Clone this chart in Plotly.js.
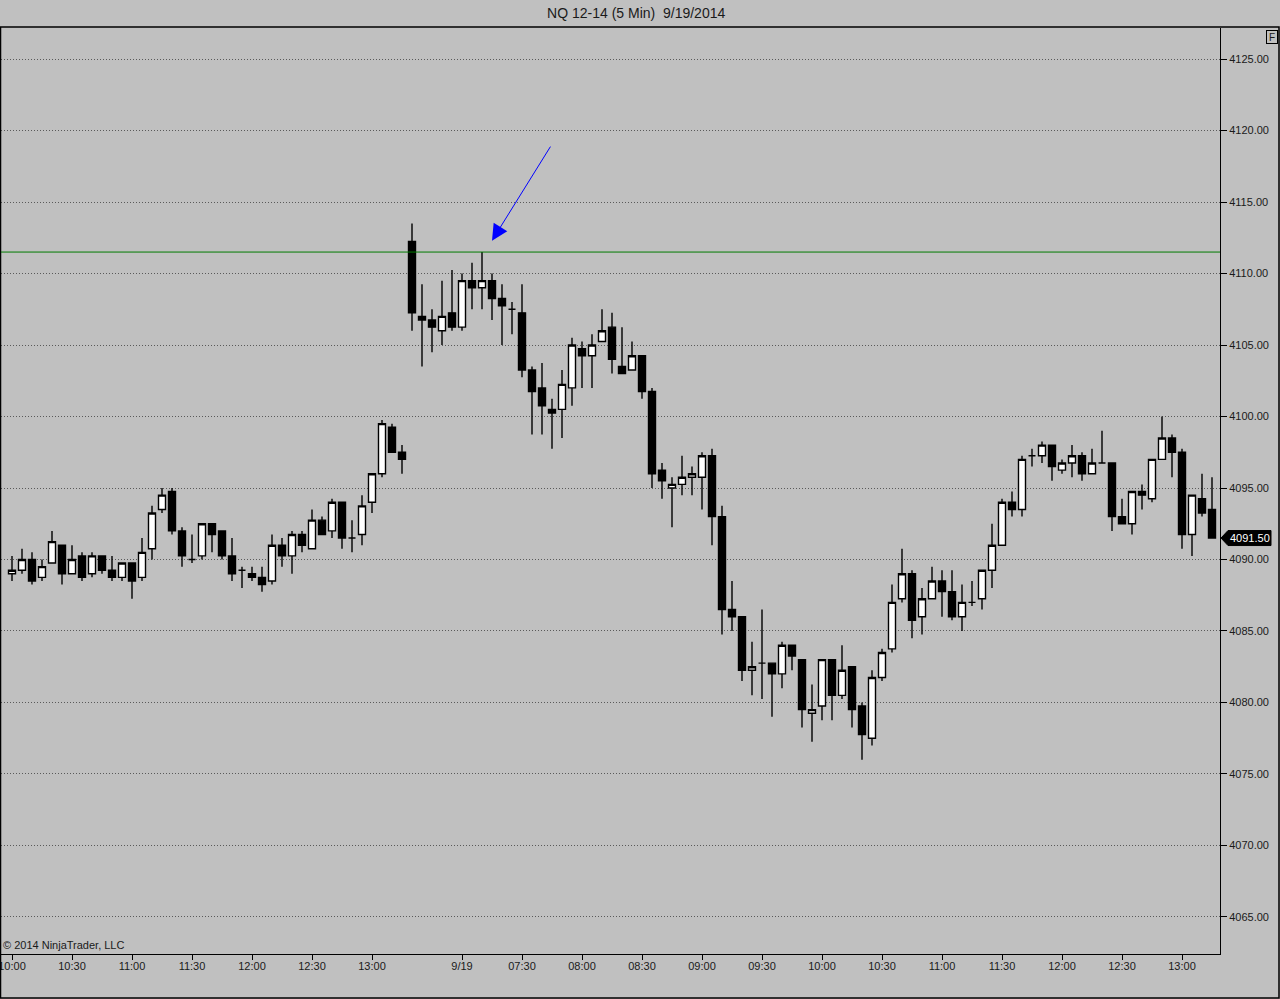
<!DOCTYPE html>
<html>
<head>
<meta charset="utf-8">
<script src="https://cdn.plot.ly/plotly-3.0.1.min.js"></script>
<style>
  html, body { margin: 0; padding: 0; background: #c0c0c0; }
  #chart { width: 1280px; height: 999px; }
</style>
</head>
<body>
<div id="chart"></div>
<script>
// NQ 12-14, 5 min bars, 9/18 10:00 .. 9/19 13:15
const barOpen = [
  4089.0, 4089.25, 4090.0, 4088.75, 4089.75, 4091.0, 4089.0, 4090.25, 4089.0, 4090.25,
  4089.25, 4088.75, 4089.75, 4088.75, 4090.75, 4093.5, 4094.75, 4092.0, 4090.0, 4090.25,
  4092.5, 4092.0, 4090.25, 4089.25, 4089.0, 4088.75, 4088.5, 4091.0, 4090.25, 4091.75,
  4090.75, 4092.75, 4092.0, 4094.0, 4091.5, 4091.75, 4094.0, 4096.0, 4099.25, 4097.5,
  4112.25, 4107.0, 4106.75, 4106.0, 4107.25, 4106.25, 4109.5, 4109.0, 4109.5, 4108.25,
  4107.5, 4107.25, 4103.25, 4102.0, 4100.5, 4100.5, 4102.0, 4104.75, 4104.25, 4105.25,
  4106.25, 4103.5, 4103.25, 4104.25, 4101.75, 4096.25, 4095.0, 4095.25, 4095.75, 4095.75,
  4097.25, 4093.0, 4086.5, 4086.0, 4082.25, 4082.75, 4082.75, 4082.0, 4084.0, 4083.0,
  4079.25, 4079.75, 4083.0, 4080.5, 4082.5, 4079.75, 4077.5, 4081.75, 4083.75, 4087.25,
  4089.0, 4086.0, 4087.25, 4088.5, 4087.75, 4086.0, 4087.0, 4087.25, 4089.25, 4091.0,
  4094.0, 4093.5, 4097.25, 4097.25, 4098.0, 4096.25, 4096.75, 4097.25, 4096.0, 4096.75,
  4096.75, 4093.0, 4092.5, 4094.75, 4094.25, 4097.0, 4098.5, 4097.5, 4091.75, 4094.25,
  4093.5
];
const barHigh = [
  4090.25, 4090.75, 4090.5, 4090.0, 4092.0, 4091.0, 4091.0, 4090.5, 4090.5, 4090.25,
  4090.25, 4089.75, 4089.75, 4091.5, 4093.75, 4095.0, 4095.0, 4092.25, 4091.75, 4092.5,
  4092.5, 4092.0, 4091.5, 4089.5, 4089.5, 4089.5, 4091.75, 4091.5, 4092.0, 4092.0,
  4093.5, 4093.0, 4094.25, 4094.0, 4092.75, 4094.5, 4096.0, 4099.75, 4099.5, 4098.0,
  4113.5, 4109.25, 4107.5, 4109.5, 4110.25, 4110.0, 4110.75, 4111.5, 4110.0, 4109.25,
  4108.0, 4109.25, 4103.5, 4103.75, 4101.25, 4103.25, 4105.5, 4105.25, 4105.75, 4107.5,
  4107.25, 4106.25, 4105.25, 4104.25, 4102.0, 4096.75, 4095.75, 4097.25, 4096.5, 4097.5,
  4097.75, 4093.75, 4088.5, 4086.0, 4084.25, 4086.5, 4082.75, 4084.25, 4084.0, 4083.0,
  4081.25, 4083.0, 4083.0, 4084.0, 4082.5, 4080.0, 4082.25, 4083.75, 4088.25, 4090.75,
  4089.25, 4088.0, 4089.5, 4089.25, 4089.25, 4088.25, 4088.5, 4089.25, 4092.5, 4094.25,
  4094.75, 4097.25, 4097.75, 4098.25, 4098.0, 4097.0, 4098.0, 4097.5, 4097.75, 4099.0,
  4096.75, 4094.25, 4094.75, 4095.25, 4097.0, 4100.0, 4098.75, 4097.75, 4094.5, 4096.0,
  4095.75
];
const barLow = [
  4088.5, 4089.0, 4088.25, 4088.5, 4089.75, 4088.25, 4089.0, 4088.5, 4088.75, 4089.0,
  4088.5, 4088.5, 4087.25, 4088.5, 4090.0, 4093.25, 4091.75, 4089.5, 4089.75, 4090.0,
  4090.5, 4090.0, 4088.5, 4088.0, 4088.5, 4087.75, 4088.25, 4089.5, 4089.0, 4090.5,
  4090.75, 4091.75, 4091.5, 4090.75, 4090.5, 4091.0, 4093.25, 4095.75, 4097.5, 4096.0,
  4106.0, 4103.5, 4104.5, 4105.0, 4106.0, 4106.0, 4107.5, 4107.5, 4106.75, 4105.0,
  4105.75, 4102.75, 4098.75, 4098.75, 4097.75, 4098.5, 4100.75, 4102.0, 4102.0, 4105.25,
  4103.0, 4103.0, 4103.25, 4101.25, 4095.0, 4094.25, 4092.25, 4094.5, 4094.5, 4093.5,
  4091.0, 4084.75, 4085.0, 4081.5, 4080.5, 4080.25, 4079.0, 4081.0, 4082.25, 4078.25,
  4077.25, 4078.75, 4078.75, 4080.25, 4078.25, 4076.0, 4077.0, 4081.5, 4083.5, 4087.0,
  4084.5, 4084.75, 4087.25, 4086.0, 4085.75, 4085.0, 4086.75, 4086.5, 4088.0, 4091.0,
  4093.0, 4093.0, 4096.5, 4096.75, 4095.5, 4096.0, 4095.75, 4095.5, 4096.0, 4096.75,
  4092.0, 4092.5, 4091.75, 4093.5, 4094.0, 4097.0, 4095.75, 4090.75, 4090.25, 4093.0,
  4091.5
];
const barClose = [
  4089.25, 4090.0, 4088.5, 4089.5, 4091.25, 4089.0, 4090.0, 4088.75, 4090.25, 4089.25,
  4088.75, 4089.75, 4088.5, 4090.5, 4093.25, 4094.5, 4092.0, 4090.25, 4090.0, 4092.5,
  4091.75, 4090.25, 4089.0, 4089.25, 4088.75, 4088.25, 4091.0, 4090.25, 4091.75, 4091.0,
  4092.75, 4091.75, 4094.0, 4091.5, 4091.5, 4093.75, 4096.0, 4099.5, 4097.5, 4097.0,
  4107.25, 4106.75, 4106.25, 4107.0, 4106.25, 4109.5, 4109.0, 4109.5, 4108.25, 4107.75,
  4107.5, 4103.25, 4101.75, 4100.75, 4100.25, 4102.25, 4105.0, 4104.25, 4105.0, 4106.0,
  4104.0, 4103.0, 4104.25, 4101.75, 4096.0, 4095.5, 4095.25, 4095.75, 4096.0, 4097.25,
  4093.0, 4086.5, 4086.0, 4082.25, 4082.5, 4082.75, 4082.0, 4084.0, 4083.25, 4079.5,
  4079.5, 4083.0, 4080.5, 4082.25, 4079.5, 4077.75, 4081.75, 4083.5, 4087.0, 4089.0,
  4085.75, 4087.25, 4088.5, 4087.75, 4086.0, 4087.0, 4087.0, 4089.25, 4091.0, 4094.0,
  4093.5, 4097.0, 4097.25, 4098.0, 4096.5, 4096.75, 4097.25, 4096.0, 4096.75, 4096.75,
  4093.0, 4092.5, 4094.75, 4094.5, 4097.0, 4098.5, 4097.5, 4091.75, 4094.5, 4093.25,
  4091.5
];

// bar index of each time label on the x axis
const tickIdx = [0, 6, 12, 18, 24, 30, 36, 45, 51, 57, 63, 69, 75, 81, 87, 93, 99, 105, 111, 117];
const tickText = ["10:00", "10:30", "11:00", "11:30", "12:00", "12:30", "13:00", "9/19",
  "07:30", "08:00", "08:30", "09:00", "09:30", "10:00", "10:30", "11:00", "11:30",
  "12:00", "12:30", "13:00"];

const resistance = 4111.5;
const lastClose = barClose[barClose.length - 1];

const barIdx = barOpen.map((_, i) => i);

const FONT = "Arial, 'Liberation Sans', sans-serif";

const candles = {
  type: "candlestick",
  x: barIdx,
  open: barOpen,
  high: barHigh,
  low: barLow,
  close: barClose,
  whiskerwidth: 0,
  increasing: { line: { color: "#000000", width: 1.4 }, fillcolor: "#ffffff" },
  decreasing: { line: { color: "#000000", width: 1.4 }, fillcolor: "#000000" },
  hoverinfo: "skip",
  showlegend: false
};

const layout = {
  width: 1280,
  height: 999,
  paper_bgcolor: "#c0c0c0",
  plot_bgcolor: "#c0c0c0",
  margin: { l: 1, r: 60, t: 28, b: 45 },
  font: { family: FONT, size: 11, color: "#1a1a1a" },
  showlegend: false,
  boxgap: 0.3,
  boxgroupgap: 0,
  title: {
    text: "NQ 12-14 (5 Min)\u00a0 9/19/2014",
    x: 0.497,
    xref: "container",
    xanchor: "center",
    y: 0.987,
    yref: "container",
    yanchor: "middle",
    font: { family: FONT, size: 14, color: "#1a1a1a" }
  },
  xaxis: {
    range: [-1.1, 120.8],
    rangeslider: { visible: false },
    tickmode: "array",
    tickvals: tickIdx,
    ticktext: tickText,
    ticks: "outside",
    ticklen: 5,
    tickcolor: "#000000",
    ticklabeloverflow: "allow",
    ticklabelstandoff: -3,
    showgrid: false,
    zeroline: false,
    showline: true,
    linecolor: "#000000",
    linewidth: 1,
    tickfont: { family: FONT, size: 11, color: "#1a1a1a" },
    fixedrange: true
  },
  yaxis: {
    side: "right",
    range: [4062.41, 4127.17],
    tickmode: "linear",
    tick0: 4065,
    dtick: 5,
    tickformat: ".2f",
    ticks: "outside",
    ticklen: 6,
    tickcolor: "#000000",
    showgrid: true,
    gridcolor: "#5a5a5a",
    gridwidth: 1,
    griddash: "1px,2px",
    zeroline: false,
    showline: true,
    linecolor: "#000000",
    linewidth: 1,
    tickfont: { family: FONT, size: 11, color: "#1a1a1a" },
    fixedrange: true
  },
  shapes: [
    // outer frame of the chart panel
    {
      type: "rect", xref: "paper", yref: "paper",
      x0: -0.0004, x1: 1.0484, y0: -0.0475, y1: 1.0011,
      line: { color: "#000000", width: 1.5 }
    },
    // horizontal level line
    {
      type: "line", xref: "paper", yref: "y",
      x0: 0, x1: 1, y0: resistance, y1: resistance,
      line: { color: "#007a00", width: 1 }
    },
    // last price flag on the price axis
    {
      type: "path", xref: "paper", yref: "y",
      xsizemode: "pixel", ysizemode: "pixel",
      xanchor: 1, yanchor: lastClose,
      path: "M1,0 L8,7.5 L51,7.5 L51,-7.5 L8,-7.5 Z",
      fillcolor: "#000000",
      line: { color: "#000000", width: 1 }
    }
  ],
  annotations: [
    {
      text: "\u00a9 2014 NinjaTrader, LLC",
      xref: "paper", yref: "paper",
      x: 0, y: 0.001, xanchor: "left", yanchor: "bottom",
      showarrow: false,
      font: { family: FONT, size: 11, color: "#1a1a1a" }
    },
    {
      text: lastClose.toFixed(2),
      xref: "paper", yref: "y",
      x: 1, y: lastClose, xanchor: "left", yanchor: "middle",
      xshift: 8,
      showarrow: false,
      font: { family: FONT, size: 11, color: "#ffffff" }
    },
    {
      text: "F",
      xref: "paper", yref: "paper",
      x: 1.0427, y: 0.990, xanchor: "center", yanchor: "middle",
      showarrow: false,
      width: 10, height: 12,
      bordercolor: "#000000", borderwidth: 1, borderpad: 0,
      font: { family: FONT, size: 10, color: "#1a1a1a" }
    },
    // blue arrow drawn on the chart
    {
      text: " ",
      x: 48, y: 4112.3,
      xref: "x", yref: "y",
      ax: 54, ay: 4119.05,
      axref: "x", ayref: "y",
      showarrow: true,
      arrowhead: 2,
      arrowsize: 3.2,
      arrowwidth: 1,
      arrowcolor: "#0000ff",
      font: { size: 2 }
    }
  ]
};

Plotly.newPlot("chart", [candles], layout, { displayModeBar: false, staticPlot: true });
</script>
</body>
</html>
